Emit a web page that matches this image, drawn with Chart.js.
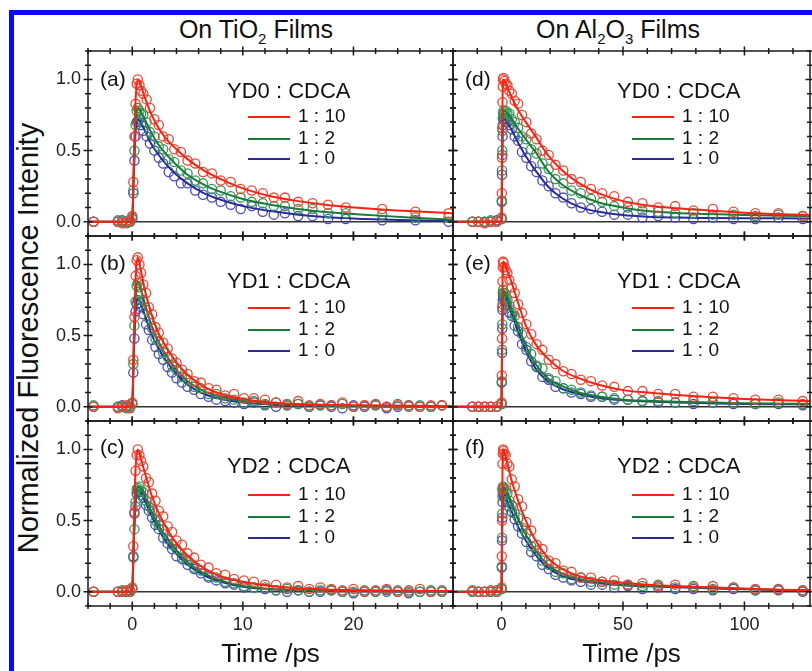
<!DOCTYPE html>
<html>
<head>
<meta charset="utf-8">
<title>Fluorescence decay on TiO2 and Al2O3 films</title>
<script src="https://cdn.jsdelivr.net/npm/chart.js@4/dist/chart.umd.min.js"></script>
<style>
  body { margin: 0; width: 812px; height: 671px; overflow: hidden; background: #fff; position: relative;
         font-family: "Liberation Sans", Arial, sans-serif; color: #111; }
  #frame { position: absolute; left: 9px; top: 10px; width: 830px; height: 690px;
           border-top: 5px solid #0a0aff; border-left: 5px solid #0a0aff; }
  canvas { position: absolute; }
  .head { position: absolute; top: 14px; width: 260px; text-align: center; font-size: 25px; line-height: 30px; }
  .head sub { font-size: 15px; vertical-align: -6px; line-height: 0; }
  #ylab { position: absolute; left: -222px; top: 323px; width: 500px; height: 30px; line-height: 30px;
          text-align: center; font-size: 29px; transform: rotate(-90deg); }
</style>
</head>
<body>
<div id="frame"></div>
<div class="head" style="left:126px">On TiO<sub>2</sub> Films</div>
<div class="head" style="left:488px">On Al<sub>2</sub>O<sub>3</sub> Films</div>
<div id="ylab">Normalized Fluorescence Intenity</div>

<script>
// ---- data: time axes (ps) ----
const timeTiA = [-3.5, -1.3, -0.9, -0.5, -0.2, 0, 0.1, 0.2, 0.3, 0.4, 0.5, 0.65, 0.8, 1.0, 1.3, 1.6, 2.0, 2.4, 2.8, 3.3, 3.8, 4.4, 5.0, 5.7, 6.4, 7.2, 8.0, 8.9, 9.8, 10.8, 11.8, 12.8, 13.8, 15.0, 16.3, 17.7, 19.3, 22.6, 25.6, 28.6];
const timeTiBC = [-3.5, -1.3, -0.9, -0.5, -0.2, 0, 0.1, 0.2, 0.3, 0.4, 0.5, 0.65, 0.8, 1.0, 1.25, 1.5, 1.8, 2.1, 2.4, 2.8, 3.2, 3.6, 4.0, 4.5, 5.0, 5.6, 6.2, 6.9, 7.6, 8.4, 9.2, 10.1, 11.0, 12.0, 13.0, 14.0, 15.0, 16.0, 17.0, 18.0, 19.0, 20.0, 21.0, 22.0, 23.0, 24.0, 25.0, 26.0, 27.0, 28.0];
const timeTiFit = [-4, -0.2, 0, 0.15, 0.3, 0.5, 0.8, 1.2, 1.7, 2.3, 3, 4, 5, 6.5, 8, 10, 12.5, 15, 18, 21, 25, 29];
const timeAl = [-12, -9.5, -7, -4.5, -2, 0, 0.1, 0.2, 0.3, 0.4, 0.5, 0.6, 0.8, 1.2, 1.7, 2.4, 3.2, 4.2, 5.4, 6.8, 8.4, 10.2, 12.2, 14.4, 16.8, 19.4, 22.2, 25.4, 28.8, 32.6, 36.8, 41.4, 46.4, 52, 58, 64.5, 71.5, 79, 87, 95.5, 104.5, 114, 124];
const timeAlFit = [-20, -0.3, 0, 0.2, 0.4, 0.7, 2, 4, 7, 10, 14, 19, 25, 32, 40, 50, 60, 72, 85, 100, 115, 127];

const ratios = ['1 : 10', '1 : 2', '1 : 0'];

// (a) YD0 on TiO2
const aRed   = [0.0, 0.0, -0.01, 0.0, 0.01, 0.04, 0.28, 0.6, 0.83, 0.97, 1.0, 0.96, 0.92, 0.9, 0.86, 0.8, 0.72, 0.68, 0.6, 0.58, 0.51, 0.49, 0.43, 0.41, 0.35, 0.34, 0.29, 0.28, 0.23, 0.22, 0.2, 0.17, 0.17, 0.14, 0.13, 0.12, 0.1, 0.09, 0.07, 0.06];
const aGreen = [0, 0.01, 0, -0.01, 0, 0.03, 0.22, 0.5, 0.68, 0.78, 0.8, 0.78, 0.76, 0.75, 0.7, 0.63, 0.6, 0.53, 0.51, 0.44, 0.42, 0.36, 0.34, 0.29, 0.27, 0.23, 0.22, 0.18, 0.17, 0.14, 0.13, 0.11, 0.11, 0.09, 0.09, 0.06, 0.06, 0.05, 0.03, 0.03];
const aBlue  = [0, 0, 0.01, 0, 0, 0.02, 0.2, 0.43, 0.6, 0.7, 0.71, 0.72, 0.68, 0.64, 0.6, 0.55, 0.5, 0.45, 0.41, 0.35, 0.32, 0.27, 0.27, 0.22, 0.19, 0.17, 0.14, 0.12, 0.09, 0.11, 0.07, 0.05, 0.06, 0.04, 0.04, 0.02, 0.02, 0.01, 0.01, 0.0];
const aRedFit   = [0, 0, 0.02, 0.45, 0.85, 1.0, 0.95, 0.86, 0.76, 0.67, 0.59, 0.51, 0.44, 0.36, 0.30, 0.235, 0.18, 0.145, 0.115, 0.095, 0.075, 0.06];
const aGreenFit = [0, 0, 0.02, 0.38, 0.7, 0.8, 0.77, 0.71, 0.63, 0.55, 0.48, 0.40, 0.33, 0.26, 0.21, 0.16, 0.12, 0.09, 0.065, 0.05, 0.03, 0.015];
const aBlueFit  = [0, 0, 0.02, 0.35, 0.63, 0.72, 0.69, 0.63, 0.55, 0.48, 0.41, 0.33, 0.27, 0.20, 0.155, 0.11, 0.075, 0.05, 0.03, 0.02, 0.01, 0.005];

// (b) YD1 on TiO2
const bRed   = [0.0, -0.01, 0.0, 0.01, -0.01, 0.03, 0.33, 0.63, 0.92, 1.03, 1.05, 1.0, 0.94, 0.86, 0.8, 0.7, 0.65, 0.56, 0.52, 0.45, 0.41, 0.34, 0.31, 0.26, 0.23, 0.18, 0.17, 0.13, 0.12, 0.08, 0.09, 0.06, 0.06, 0.05, 0.03, 0.02, 0.04, 0.01, 0.02, 0.01, 0.03, 0.0, 0.01, 0.02, 0.0, 0.01, 0.01, 0.0, 0.01, 0.01];
const bGreen = [0.01, 0.0, 0.0, -0.01, 0.0, 0.02, 0.3, 0.57, 0.74, 0.85, 0.87, 0.84, 0.8, 0.75, 0.68, 0.62, 0.55, 0.48, 0.46, 0.38, 0.35, 0.29, 0.26, 0.21, 0.19, 0.14, 0.13, 0.09, 0.09, 0.06, 0.05, 0.03, 0.04, 0.02, 0.03, 0.01, 0.02, 0.0, 0.01, 0.01, 0.02, 0.0, 0.01, 0.01, 0.0, 0.02, 0.0, 0.01, 0.0, 0.01];
const bBlue  = [0.0, 0.0, 0.01, 0.0, 0.0, 0.02, 0.24, 0.48, 0.67, 0.72, 0.75, 0.73, 0.7, 0.65, 0.58, 0.54, 0.47, 0.42, 0.37, 0.33, 0.28, 0.24, 0.2, 0.17, 0.14, 0.12, 0.09, 0.07, 0.05, 0.04, 0.03, 0.02, 0.03, 0.01, 0.0, 0.01, 0.02, 0.0, 0.01, 0.0, -0.01, 0.01, 0.0, 0.01, -0.01, 0.0, 0.01, 0.0, 0.0, 0.01];
const bRedFit   = [0, 0, 0.02, 0.5, 0.9, 1.05, 0.95, 0.80, 0.66, 0.53, 0.43, 0.31, 0.225, 0.14, 0.09, 0.055, 0.03, 0.02, 0.013, 0.01, 0.007, 0.005];
const bGreenFit = [0, 0, 0.02, 0.42, 0.76, 0.88, 0.82, 0.71, 0.58, 0.47, 0.37, 0.26, 0.18, 0.11, 0.07, 0.04, 0.02, 0.012, 0.008, 0.005, 0.003, 0.002];
const bBlueFit  = [0, 0, 0.02, 0.38, 0.66, 0.76, 0.72, 0.63, 0.52, 0.42, 0.33, 0.23, 0.155, 0.09, 0.055, 0.03, 0.015, 0.008, 0.005, 0.003, 0.002, 0.001];

// (c) YD2 on TiO2
const cRed   = [0.0, 0.0, 0.0, 0.01, 0.0, 0.03, 0.32, 0.56, 0.85, 0.96, 1.0, 0.96, 0.92, 0.88, 0.8, 0.77, 0.69, 0.64, 0.57, 0.53, 0.46, 0.42, 0.36, 0.33, 0.27, 0.24, 0.19, 0.17, 0.13, 0.12, 0.09, 0.08, 0.07, 0.05, 0.05, 0.03, 0.04, 0.02, 0.03, 0.02, 0.01, 0.02, 0.0, 0.01, 0.02, 0.0, 0.01, 0.02, 0.0, 0.01];
const cGreen = [0.0, 0.0, 0.01, 0.0, 0.0, 0.02, 0.24, 0.44, 0.63, 0.72, 0.73, 0.74, 0.71, 0.7, 0.64, 0.6, 0.57, 0.5, 0.47, 0.44, 0.37, 0.33, 0.3, 0.24, 0.22, 0.17, 0.15, 0.11, 0.1, 0.07, 0.06, 0.04, 0.03, 0.03, 0.01, 0.02, 0.01, 0.0, 0.01, 0.01, 0.0, 0.0, 0.01, 0.0, 0.0, 0.01, 0.0, 0.0, 0.01, 0.0];
const cBlue  = [0.0, 0.0, 0.0, 0.0, 0.01, 0.02, 0.25, 0.55, 0.6, 0.69, 0.71, 0.7, 0.68, 0.66, 0.61, 0.57, 0.52, 0.47, 0.44, 0.38, 0.34, 0.3, 0.25, 0.23, 0.19, 0.16, 0.13, 0.1, 0.08, 0.06, 0.05, 0.03, 0.03, 0.02, 0.01, 0.0, 0.01, 0.0, 0.0, 0.01, 0.0, -0.01, 0.0, 0.0, 0.01, 0.0, -0.01, 0.0, 0.0, 0.0];
const cRedFit   = [0, 0, 0.02, 0.48, 0.86, 1.0, 0.93, 0.82, 0.69, 0.57, 0.46, 0.34, 0.255, 0.165, 0.11, 0.07, 0.04, 0.025, 0.015, 0.01, 0.007, 0.005];
const cGreenFit = [0, 0, 0.02, 0.38, 0.65, 0.74, 0.72, 0.66, 0.57, 0.48, 0.39, 0.29, 0.21, 0.13, 0.08, 0.04, 0.02, 0.012, 0.007, 0.005, 0.003, 0.002];
const cBlueFit  = [0, 0, 0.02, 0.36, 0.62, 0.71, 0.69, 0.63, 0.54, 0.45, 0.36, 0.265, 0.19, 0.115, 0.07, 0.035, 0.018, 0.01, 0.006, 0.004, 0.002, 0.001];

// (d) YD0 on Al2O3
const dRed   = [0.0, 0.0, -0.01, 0.0, 0.0, 0.03, 0.2, 0.45, 0.66, 0.84, 0.95, 1.0, 1.01, 0.99, 0.97, 0.96, 0.92, 0.9, 0.85, 0.83, 0.75, 0.7, 0.62, 0.58, 0.5, 0.47, 0.4, 0.36, 0.3, 0.28, 0.23, 0.2, 0.18, 0.14, 0.13, 0.1, 0.11, 0.08, 0.09, 0.07, 0.06, 0.06, 0.04];
const dGreen = [0.0, 0.0, 0.0, 0.01, 0.0, 0.02, 0.15, 0.36, 0.5, 0.64, 0.73, 0.76, 0.78, 0.77, 0.78, 0.76, 0.76, 0.72, 0.7, 0.66, 0.6, 0.58, 0.51, 0.48, 0.41, 0.37, 0.3, 0.27, 0.22, 0.2, 0.16, 0.14, 0.11, 0.1, 0.08, 0.07, 0.06, 0.06, 0.05, 0.05, 0.04, 0.05, 0.04];
const dBlue  = [0.0, 0.0, 0.0, 0.0, 0.01, 0.02, 0.14, 0.33, 0.47, 0.6, 0.68, 0.72, 0.73, 0.72, 0.72, 0.7, 0.68, 0.65, 0.6, 0.57, 0.49, 0.45, 0.39, 0.35, 0.29, 0.25, 0.2, 0.17, 0.13, 0.1, 0.09, 0.07, 0.05, 0.05, 0.03, 0.04, 0.03, 0.02, 0.03, 0.02, 0.02, 0.03, 0.02];
const dRedFit   = [0, 0, 0.02, 0.45, 0.85, 1.0, 0.96, 0.88, 0.78, 0.70, 0.60, 0.47, 0.36, 0.27, 0.2, 0.145, 0.115, 0.095, 0.08, 0.064, 0.053, 0.047];
const dGreenFit = [0, 0, 0.02, 0.35, 0.65, 0.78, 0.77, 0.73, 0.65, 0.58, 0.49, 0.36, 0.26, 0.19, 0.135, 0.1, 0.075, 0.062, 0.055, 0.047, 0.042, 0.04];
const dBlueFit  = [0, 0, 0.02, 0.33, 0.62, 0.73, 0.71, 0.65, 0.55, 0.46, 0.36, 0.25, 0.165, 0.105, 0.07, 0.047, 0.036, 0.03, 0.027, 0.025, 0.024, 0.023];

// (e) YD1 on Al2O3
const eRed   = [0.0, 0.0, 0.0, 0.0, 0.0, 0.03, 0.22, 0.48, 0.7, 0.88, 0.98, 1.02, 1.01, 0.98, 0.96, 0.94, 0.89, 0.84, 0.8, 0.72, 0.66, 0.58, 0.51, 0.44, 0.4, 0.33, 0.3, 0.25, 0.23, 0.19, 0.18, 0.15, 0.14, 0.11, 0.11, 0.09, 0.09, 0.07, 0.07, 0.06, 0.05, 0.05, 0.04];
const eGreen = [0.0, 0.0, 0.0, 0.0, 0.0, 0.02, 0.18, 0.4, 0.58, 0.72, 0.8, 0.82, 0.8, 0.8, 0.77, 0.75, 0.71, 0.66, 0.64, 0.56, 0.51, 0.42, 0.37, 0.29, 0.27, 0.2, 0.18, 0.13, 0.12, 0.1, 0.08, 0.07, 0.06, 0.05, 0.04, 0.04, 0.03, 0.04, 0.03, 0.03, 0.02, 0.03, 0.02];
const eBlue  = [0.0, 0.0, 0.0, 0.0, 0.0, 0.02, 0.17, 0.38, 0.55, 0.68, 0.75, 0.78, 0.77, 0.75, 0.74, 0.71, 0.66, 0.64, 0.57, 0.53, 0.44, 0.4, 0.32, 0.28, 0.21, 0.19, 0.14, 0.13, 0.1, 0.09, 0.07, 0.07, 0.05, 0.05, 0.04, 0.03, 0.03, 0.02, 0.03, 0.02, 0.02, 0.02, 0.01];
const eRedFit   = [0, 0, 0.02, 0.48, 0.88, 1.02, 0.97, 0.88, 0.72, 0.57, 0.44, 0.34, 0.255, 0.2, 0.155, 0.117, 0.1, 0.083, 0.068, 0.055, 0.045, 0.04];
const eGreenFit = [0, 0, 0.02, 0.4, 0.72, 0.82, 0.78, 0.69, 0.56, 0.43, 0.3, 0.2, 0.145, 0.1, 0.072, 0.05, 0.042, 0.035, 0.03, 0.025, 0.022, 0.02];
const eBlueFit  = [0, 0, 0.02, 0.38, 0.68, 0.78, 0.75, 0.66, 0.52, 0.39, 0.27, 0.18, 0.125, 0.088, 0.062, 0.045, 0.037, 0.03, 0.025, 0.02, 0.018, 0.017];

// (f) YD2 on Al2O3
const fRed   = [0.01, 0.0, 0.0, 0.01, 0.0, 0.03, 0.25, 0.5, 0.72, 0.9, 0.97, 1.0, 0.99, 0.97, 0.96, 0.9, 0.88, 0.79, 0.74, 0.65, 0.6, 0.49, 0.43, 0.33, 0.3, 0.22, 0.2, 0.15, 0.14, 0.1, 0.1, 0.07, 0.08, 0.05, 0.06, 0.04, 0.05, 0.03, 0.04, 0.03, 0.02, 0.02, 0.01];
const fGreen = [0.0, 0.0, 0.0, 0.0, 0.01, 0.02, 0.18, 0.38, 0.55, 0.67, 0.73, 0.74, 0.72, 0.73, 0.7, 0.69, 0.64, 0.61, 0.55, 0.52, 0.45, 0.41, 0.32, 0.29, 0.22, 0.19, 0.14, 0.13, 0.09, 0.1, 0.07, 0.07, 0.05, 0.05, 0.04, 0.05, 0.03, 0.04, 0.02, 0.03, 0.01, 0.02, 0.01];
const fBlue  = [0.0, 0.0, 0.0, 0.0, 0.0, 0.02, 0.17, 0.36, 0.52, 0.63, 0.69, 0.7, 0.69, 0.67, 0.65, 0.63, 0.6, 0.56, 0.51, 0.46, 0.41, 0.35, 0.28, 0.25, 0.19, 0.16, 0.12, 0.1, 0.08, 0.07, 0.05, 0.05, 0.03, 0.04, 0.02, 0.03, 0.02, 0.02, 0.01, 0.02, 0.01, 0.01, 0.0];
const fRedFit   = [0, 0, 0.02, 0.48, 0.88, 1.0, 0.93, 0.79, 0.63, 0.5, 0.36, 0.24, 0.16, 0.11, 0.082, 0.063, 0.05, 0.04, 0.032, 0.023, 0.015, 0.011];
const fGreenFit = [0, 0, 0.02, 0.38, 0.66, 0.74, 0.7, 0.62, 0.5, 0.4, 0.29, 0.19, 0.125, 0.09, 0.068, 0.05, 0.043, 0.035, 0.028, 0.02, 0.013, 0.01];
const fBlueFit  = [0, 0, 0.02, 0.36, 0.62, 0.7, 0.65, 0.57, 0.45, 0.36, 0.26, 0.17, 0.11, 0.078, 0.06, 0.045, 0.038, 0.031, 0.025, 0.017, 0.012, 0.01];

// ---- look ----
const FONT = '"Liberation Sans", Arial, sans-serif';
const pointColors = ['#f2432f', '#2f9a52', '#4a4ac0'];
const lineColors = ['#ff2010', '#1c7a38', '#2a2a9c'];

// left column (TiO2) and right column (Al2O3)
const columns = [
  { left: 88, width: 365, marginL: 70, xMin: -4, xMax: 29, xMajor: 10, xMinor: 2, titleX: 139, lineX: 160, showY: true },
  { left: 453, width: 357, marginL: 8, xMin: -20, xMax: 127, xMajor: 50, xMinor: 10, titleX: 164, lineX: 179, showY: false }
];
const rows = [
  { top: 51, panelY: 29, titleY: 41, entryY: [66, 88, 108], bottom: false },
  { top: 236, panelY: 28, titleY: 46, entryY: [72, 94, 115], bottom: false },
  { top: 421, panelY: 27, titleY: 45.5, entryY: [74, 96, 117], bottom: true }
];
const PLOT_H = 185, PAD = 8, BOTTOM_AXIS = 64;

const panels = [
  { col: 0, row: 0, tag: '(a)', dye: 'YD0 : CDCA', t: timeTiA, tf: timeTiFit, pts: [aRed, aGreen, aBlue], fits: [aRedFit, aGreenFit, aBlueFit] },
  { col: 0, row: 1, tag: '(b)', dye: 'YD1 : CDCA', t: timeTiBC, tf: timeTiFit, pts: [bRed, bGreen, bBlue], fits: [bRedFit, bGreenFit, bBlueFit] },
  { col: 0, row: 2, tag: '(c)', dye: 'YD2 : CDCA', t: timeTiBC, tf: timeTiFit, pts: [cRed, cGreen, cBlue], fits: [cRedFit, cGreenFit, cBlueFit] },
  { col: 1, row: 0, tag: '(d)', dye: 'YD0 : CDCA', t: timeAl, tf: timeAlFit, pts: [dRed, dGreen, dBlue], fits: [dRedFit, dGreenFit, dBlueFit] },
  { col: 1, row: 1, tag: '(e)', dye: 'YD1 : CDCA', t: timeAl, tf: timeAlFit, pts: [eRed, eGreen, eBlue], fits: [eRedFit, eGreenFit, eBlueFit] },
  { col: 1, row: 2, tag: '(f)', dye: 'YD2 : CDCA', t: timeAl, tf: timeAlFit, pts: [fRed, fGreen, fBlue], fits: [fRedFit, fGreenFit, fBlueFit] }
];

// frame with in/out ticks on all four sides, panel tag and the small legend
const framePlugin = {
  id: 'frame',
  afterDraw(chart, args, o) {
    const { ctx, chartArea: a, scales: { x, y } } = chart;
    ctx.save();
    ctx.strokeStyle = '#1a1a1a';
    ctx.lineWidth = 1.5;
    ctx.strokeRect(a.left, a.top, a.right - a.left, a.bottom - a.top);

    ctx.beginPath();
    const xr = Math.round(o.xMajor / o.xMinor);
    for (let k = Math.ceil(x.min / o.xMinor - 1e-9); k * o.xMinor <= x.max + 1e-9; k++) {
      const px = x.getPixelForValue(k * o.xMinor);
      const len = k % xr === 0 ? 4.5 : 3;
      ctx.moveTo(px, a.top - len); ctx.lineTo(px, a.top + len);
      ctx.moveTo(px, a.bottom - len); ctx.lineTo(px, a.bottom + len);
    }
    for (let k = Math.ceil(y.min / 0.1 - 1e-9); k * 0.1 <= y.max + 1e-9; k++) {
      const py = y.getPixelForValue(k * 0.1);
      const len = k % 5 === 0 ? 4.5 : 3;
      ctx.moveTo(a.left - len, py); ctx.lineTo(a.left + len, py);
      ctx.moveTo(a.right - len, py); ctx.lineTo(a.right + len, py);
    }
    ctx.stroke();

    ctx.fillStyle = '#111';
    ctx.textBaseline = 'middle';
    ctx.font = '21px ' + FONT;
    ctx.fillText(o.tag, a.left + 12, a.top + o.panelY);
    ctx.font = '22px ' + FONT;
    ctx.fillText(o.dye, a.left + o.titleX, a.top + o.titleY);
    ctx.font = '19px ' + FONT;
    chart.data.datasets.filter(d => d.isFit).forEach((d, i) => {
      const yy = a.top + o.entryY[i];
      ctx.strokeStyle = d.borderColor;
      ctx.lineWidth = 2.2;
      ctx.beginPath();
      ctx.moveTo(a.left + o.lineX, yy);
      ctx.lineTo(a.left + o.lineX + 42, yy);
      ctx.stroke();
      ctx.fillText(d.label, a.left + o.lineX + 50, yy);
    });
    ctx.restore();
  }
};

panels.forEach(p => {
  const c = columns[p.col], r = rows[p.row];
  const mb = r.bottom ? BOTTOM_AXIS : PAD;
  const canvas = document.createElement('canvas');
  canvas.width = c.marginL + c.width + PAD;
  canvas.height = PAD + PLOT_H + mb;
  canvas.style.left = (c.left - c.marginL) + 'px';
  canvas.style.top = (r.top - PAD) + 'px';
  document.body.appendChild(canvas);

  const datasets = [];
  [0, 1, 2].forEach(i => {
    datasets.push({
      label: ratios[i],
      isFit: true,
      data: p.tf.map((t, j) => ({ x: t, y: p.fits[i][j] })),
      showLine: true,
      borderColor: lineColors[i],
      borderWidth: 2,
      pointRadius: 0,
      cubicInterpolationMode: 'monotone'
    });
    datasets.push({
      label: ratios[i] + ' data',
      data: p.t.map((t, j) => ({ x: t, y: p.pts[i][j] })),
      showLine: false,
      pointRadius: 4.6,
      pointBorderWidth: 1.3,
      pointBorderColor: pointColors[i],
      pointBackgroundColor: 'rgba(255,255,255,0)',
      clip: 6
    });
  });

  new Chart(canvas, {
    type: 'scatter',
    data: { datasets },
    options: {
      responsive: false,
      animation: false,
      events: [],
      layout: { padding: { top: PAD, right: PAD, left: 0, bottom: 0 } },
      plugins: {
        legend: { display: false },
        tooltip: { enabled: false },
        frame: {
          xMajor: c.xMajor, xMinor: c.xMinor, tag: p.tag, dye: p.dye,
          titleX: c.titleX, lineX: c.lineX, panelY: r.panelY, titleY: r.titleY, entryY: r.entryY
        }
      },
      scales: {
        x: {
          type: 'linear', min: c.xMin, max: c.xMax,
          grid: { display: false }, border: { display: false },
          ticks: { display: r.bottom, stepSize: c.xMajor, includeBounds: false, maxRotation: 0, padding: 0,
                   color: '#222', font: { size: 18, family: FONT } },
          title: { display: r.bottom, text: 'Time /ps', color: '#111', font: { size: 26, family: FONT },
                   padding: { top: 0, bottom: 0 } },
          afterFit: s => { s.height = mb; s.paddingLeft = 0; s.paddingRight = 0; }
        },
        y: {
          min: -0.1, max: 1.2,
          grid: { drawTicks: false, lineWidth: 1.4, color: g => g.tick && g.tick.value === 0 ? '#333' : 'rgba(0,0,0,0)' },
          border: { display: false },
          ticks: { display: c.showY, stepSize: 0.5, includeBounds: false, padding: 7,
                   callback: v => v.toFixed(1), color: '#222', font: { size: 18, family: FONT } },
          afterFit: s => { s.width = c.marginL; s.paddingTop = 0; s.paddingBottom = 0; }
        }
      }
    },
    plugins: [framePlugin]
  });
});
</script>
</body>
</html>
